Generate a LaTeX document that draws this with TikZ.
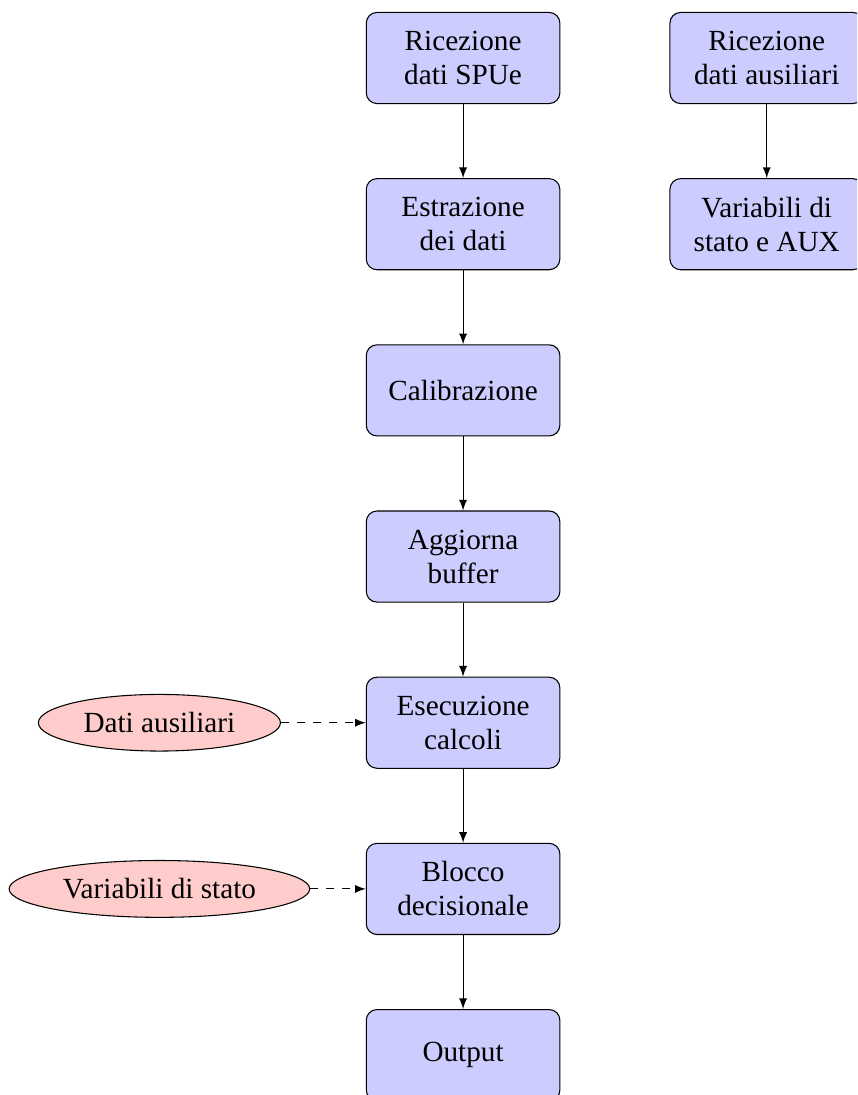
\documentclass[tikz,border=0pt,11pt]{standalone}
\usepackage{fontspec}
\setmainfont{Liberation Serif}
\usetikzlibrary{shapes,positioning,arrows}

\tikzset{
  blocco/.style={draw,fill=blue!20,rounded corners,align=center,minimum height=1.2cm,minimum width=2.55cm,
    font=\fontsize{10.95}{12.8}\selectfont},
  dato/.style={draw,ellipse,fill=red!20},
  freccia/.style={-latex},
}

\begin{document}
\begin{tikzpicture}[node distance=0.975cm]
  \clip (-6.10,0.764) rectangle (5.19,-13.66);

  \node[blocco](ricezione){Ricezione\\dati SPUe};
  \node[blocco,below=of ricezione](estrazione){Estrazione\\dei dati};
  \node[blocco,below=of estrazione](calibrazione){Calibrazione};
  \node[blocco,below=of calibrazione](buffer){Aggiorna\\buffer};
  \node[blocco,below=of buffer](calcoli){Esecuzione\\calcoli};
  \node[blocco,below=of calcoli](decisione){Blocco\\decisionale};
  \node[blocco,below=of decisione](output){Output};

  \node[blocco,xshift=4cm] at (ricezione) (ricaux){Ricezione\\dati ausiliari};
  \node[blocco,below=of ricaux](varaux){Variabili di\\stato e AUX};

  \node[dato,xshift=-4cm] at (calcoli) (datiaux){Dati ausiliari};
  \node[dato,xshift=-4cm] at (decisione) (varstato){Variabili di stato};

  \draw[freccia] (ricezione) -- (estrazione);
  \draw[freccia] (estrazione) -- (calibrazione);
  \draw[freccia] (calibrazione) -- (buffer);
  \draw[freccia] (buffer) -- (calcoli);
  \draw[freccia] (calcoli) -- (decisione);
  \draw[freccia] (decisione) -- (output);
  \draw[freccia] (ricaux) -- (varaux);

  \draw[freccia,dashed] (datiaux) -- (calcoli);
  \draw[freccia,dashed] (varstato) -- (decisione);
\end{tikzpicture}
\end{document}
